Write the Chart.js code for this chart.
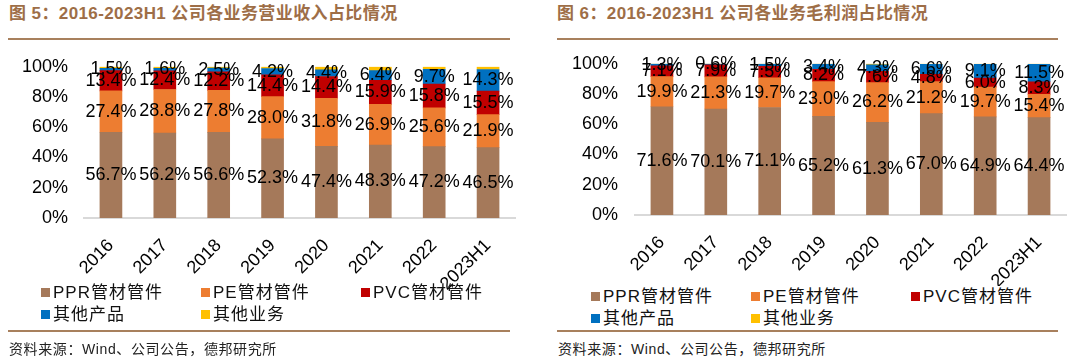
<!DOCTYPE html>
<html>
<head>
<meta charset="utf-8">
<script src="https://cdn.jsdelivr.net/npm/chart.js@4.4.0/dist/chart.umd.min.js"></script>
<style>
  body { margin: 0; background: #fff; }
  #page { position: relative; width: 1080px; height: 364px; overflow: hidden; font-family: "Liberation Sans", Arial, "Noto Sans CJK SC", sans-serif; }
  .title { position: absolute; top: 3px; font-size: 17px; font-weight: bold; color: #9e6e47; letter-spacing: 0.4px; white-space: nowrap; line-height: 22px; }
  .rule { position: absolute; height: 2px; background: #a8805d; }
  .src { position: absolute; top: 340px; font-size: 14px; color: #222; letter-spacing: 0.6px; white-space: nowrap; line-height: 18px; }
  canvas { position: absolute; }
  .leg { position: absolute; font-size: 17px; color: #111; white-space: nowrap; line-height: 20px; letter-spacing: 1px; }
  .leg i { display: inline-block; width: 9px; height: 9px; margin-right: 3px; vertical-align: 1px; }
</style>
</head>
<body>
<div id="page">
  <div class="title" style="left:9px">图 5：2016-2023H1 公司各业务营业收入占比情况</div>
  <div class="rule" style="left:8px;top:38px;width:502px"></div>
  <canvas id="c1" width="530" height="250" style="left:0;top:40px"></canvas>
  <div id="leg1"></div>
  <div class="rule" style="left:8px;top:330px;width:502px"></div>
  <div class="src" style="left:9px">资料来源：Wind、公司公告，德邦研究所</div>

  <div class="title" style="left:557px">图 6：2016-2023H1 公司各业务毛利润占比情况</div>
  <div class="rule" style="left:557px;top:38px;width:501px"></div>
  <canvas id="c2" width="540" height="250" style="left:540px;top:36px"></canvas>
  <div id="leg2"></div>
  <div class="rule" style="left:557px;top:330px;width:501px"></div>
  <div class="src" style="left:558px">资料来源：Wind、公司公告，德邦研究所</div>
</div>
<script>
const years = ['2016', '2017', '2018', '2019', '2020', '2021', '2022', '2023H1'];
const seriesNames = ['PPR管材管件', 'PE管材管件', 'PVC管材管件', '其他产品', '其他业务'];
const colors = ['#a5795a', '#ed7d31', '#c00000', '#0070c0', '#ffc000'];
const yTicks = [0, 20, 40, 60, 80, 100];

// revenue share (%)
const revPPR = [56.7, 56.2, 56.6, 52.3, 47.4, 48.3, 47.2, 46.5];
const revPE = [27.4, 28.8, 27.8, 28.0, 31.8, 26.9, 25.6, 21.9];
const revPVC = [13.4, 12.4, 12.2, 14.4, 14.4, 15.9, 15.8, 15.5];
const revOther = [1.5, 1.6, 2.5, 4.2, 4.4, 6.4, 9.7, 14.3];
const revBiz = [1.0, 1.0, 0.9, 1.1, 2.0, 2.5, 1.7, 1.8];

// gross profit share (%)
const gpPPR = [71.6, 70.1, 71.1, 65.2, 61.3, 67.0, 64.9, 64.4];
const gpPE = [19.9, 21.3, 19.7, 23.0, 26.2, 21.2, 19.7, 15.4];
const gpPVC = [7.1, 7.9, 7.5, 8.2, 7.6, 4.8, 6.0, 8.3];
const gpOther = [1.3, 0.6, 1.5, 3.4, 4.3, 6.6, 9.1, 11.5];
const gpBiz = [0.1, 0.1, 0.2, 0.2, 0.6, 0.4, 0.3, 0.4];

const FONT = '"Liberation Sans", Arial, sans-serif';

// labels in the middle of each segment, not for 其他业务
const segLabels = {
  id: 'segLabels',
  afterDatasetsDraw(chart) {
    const ctx = chart.ctx;
    ctx.save();
    ctx.font = '18px ' + FONT;
    ctx.fillStyle = '#000';
    ctx.textAlign = 'center';
    ctx.textBaseline = 'middle';
    chart.data.datasets.forEach((ds, i) => {
      if (i > 3) return;
      chart.getDatasetMeta(i).data.forEach((bar, j) => {
        ctx.fillText(ds.data[j].toFixed(1) + '%', bar.x, (bar.y + bar.base) / 2);
      });
    });
    ctx.restore();
  }
};

function makeChart(id, series, lay) {
  return new Chart(document.getElementById(id), {
    type: 'bar',
    data: {
      labels: years,
      datasets: series.map((d, i) => ({
        label: seriesNames[i],
        data: d,
        backgroundColor: colors[i],
        barThickness: 22,
        borderWidth: 0
      }))
    },
    options: {
      responsive: false,
      animation: false,
      devicePixelRatio: 1,
      layout: { padding: { top: lay.top, right: lay.right, left: 0, bottom: 0 } },
      plugins: { legend: { display: false }, tooltip: { enabled: false } },
      scales: {
        x: {
          stacked: true,
          grid: { display: false, drawTicks: false },
          border: { display: true, color: '#d9d9d9', width: 2 },
          ticks: { color: '#000', font: { size: 18, family: FONT }, minRotation: 45, maxRotation: 45, padding: 17 },
          afterFit: s => { s.height = lay.xh; }
        },
        y: {
          stacked: true,
          min: 0, max: 100,
          afterBuildTicks: s => { s.ticks = yTicks.map(v => ({ value: v })); },
          grid: { display: false, drawTicks: false },
          border: { display: false },
          ticks: { color: '#000', font: { size: 18, family: FONT }, padding: lay.pad, callback: v => v + '%' },
          afterFit: s => { s.width = lay.yw; }
        }
      }
    },
    plugins: [segLabels]
  });
}

function makeLegend(id, left, rows) {
  const box = document.getElementById(id);
  seriesNames.forEach((name, i) => {
    const el = document.createElement('div');
    el.className = 'leg';
    el.style.left = (left + (i % 3) * 160) + 'px';
    el.style.top = (rows[Math.floor(i / 3)] - 10) + 'px';
    el.innerHTML = '<i style="background:' + colors[i] + '"></i>' + name;
    box.appendChild(el);
  });
}

makeChart('c1', [revPPR, revPE, revPVC, revOther, revBiz], { top: 9, right: 15, yw: 84, xh: 72, pad: 16 });
makeChart('c2', [gpPPR, gpPE, gpPVC, gpOther, gpBiz], { top: 10, right: 14, yw: 95, xh: 71, pad: 17 });
makeLegend('leg1', 41, [293, 315]);
makeLegend('leg2', 591, [297, 319]);
</script>
</body>
</html>
